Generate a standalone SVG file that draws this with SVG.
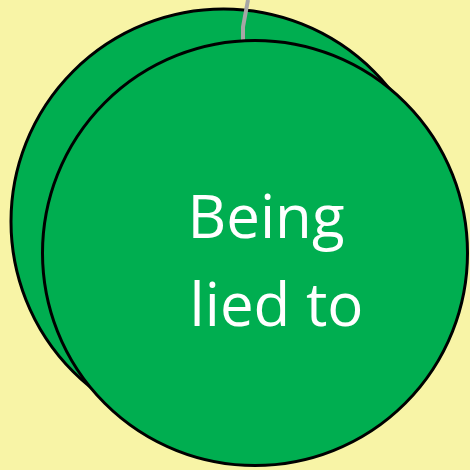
<svg xmlns="http://www.w3.org/2000/svg" width="470" height="470" viewBox="0 0 470 470">
<style>
.node{fill:#00AE50;stroke:#000;stroke-width:3}
.lbl{fill:#fff;font-family:"Open Sans","Noto Sans",sans-serif;font-size:60px;text-anchor:middle}
.conn{fill:none;stroke:#A6A6A6;stroke-width:4}
</style>
<rect width="470" height="470" fill="#F8F4A6"/>
<g id="back-circle"><circle class="node" cx="223.5" cy="221.5" r="212.5"/></g>
<g id="connectors"><path class="conn" d="M248,0 L243,27 L243,41"/></g>
<g id="front-circle">
<circle class="node" cx="255" cy="253" r="212.5"/>
<text class="lbl" x="266" y="238">Being</text>
<text class="lbl" x="276.5" y="326">lied to</text>
</g>
</svg>
